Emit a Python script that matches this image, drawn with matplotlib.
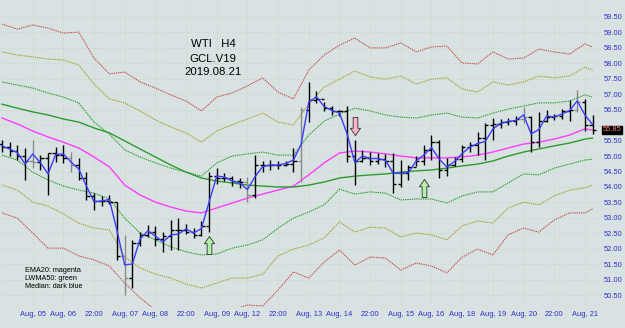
import numpy as np
import matplotlib
matplotlib.use("Agg")
import matplotlib.pyplot as plt
from matplotlib.path import Path

plt.rcParams['font.family'] = ['Liberation Sans', 'DejaVu Sans']

# H4 bars, WTI GCL.V19
high = [55.52, 55.45, 55.36, 55.26, 55.52, 55.03, 55.10, 55.29, 55.36, 55.13,
        54.94, 54.48, 53.80, 53.71, 53.74, 53.52, 52.45, 52.29, 52.54, 52.77,
        52.74, 52.54, 52.93, 52.99, 52.80, 52.67, 52.90, 54.48, 54.61, 54.45,
        54.35, 54.29, 54.32, 55.03, 54.84, 54.87, 54.84, 54.84, 55.26, 56.59,
        57.40, 57.11, 56.75, 56.62, 56.49, 56.62, 55.52, 55.20, 55.13, 55.10,
        55.07, 55.10, 54.87, 54.71, 55.00, 55.36, 55.68, 55.52, 54.94, 54.97,
        55.36, 55.45, 55.78, 56.07, 56.23, 56.20, 56.23, 56.30, 56.59, 56.30,
        56.43, 56.49, 56.36, 56.52, 56.81, 57.14, 56.85, 56.33]
low = [55.13, 55.00, 54.87, 54.23, 54.61, 54.55, 53.74, 54.81, 54.78, 54.48,
       54.23, 53.58, 53.25, 53.38, 53.45, 51.64, 50.50, 50.73, 52.09, 52.38,
       52.09, 51.90, 51.96, 51.96, 52.48, 52.35, 52.41, 52.54, 54.10, 54.19,
       54.03, 53.97, 53.51, 53.64, 54.48, 54.55, 54.58, 54.68, 54.48, 54.16,
       56.10, 56.72, 56.46, 56.33, 56.30, 54.81, 54.06, 54.81, 54.71, 54.74,
       54.65, 53.80, 54.00, 54.23, 54.68, 54.71, 54.87, 54.29, 54.35, 54.68,
       54.81, 55.13, 55.03, 54.87, 55.52, 55.91, 56.01, 56.01, 56.07, 55.13,
       55.29, 56.10, 56.17, 56.20, 56.13, 56.43, 55.81, 55.71]
close = [55.30, 55.15, 55.00, 54.85, 54.80, 54.95, 55.10, 55.05, 54.95, 54.70,
         54.30, 53.70, 53.55, 53.55, 53.50, 51.75, 51.05, 52.20, 52.45, 52.55,
         52.30, 52.40, 52.60, 52.60, 52.55, 52.45, 52.75, 54.35, 54.30, 54.30,
         54.20, 54.15, 53.75, 54.70, 54.70, 54.72, 54.70, 54.75, 54.85, 56.50,
         56.80, 56.85, 56.55, 56.45, 56.45, 55.00, 54.85, 54.95, 54.85, 54.90,
         54.85, 54.10, 54.45, 54.65, 54.85, 55.20, 55.45, 54.55, 54.70, 54.90,
         55.30, 55.35, 55.60, 56.00, 56.05, 56.10, 56.15, 56.20, 56.25, 55.45,
         56.15, 56.25, 56.30, 56.45, 56.50, 56.75, 56.00, 55.85]
first_open = 55.40
gray_bars = [4, 9, 16, 32, 39, 68, 75]

# indicator lines, read every 2nd bar
ind_x = list(range(0, 77, 2)) + [77]
ema20 = [56.23, 56.04, 55.81, 55.62, 55.45, 55.26, 54.97, 54.65, 54.06, 53.74,
         53.51, 53.35, 53.22, 53.16, 53.32, 53.48, 53.64, 53.77, 53.90, 54.03,
         54.39, 54.78, 55.10, 55.16, 55.13, 55.07, 55.00, 54.94, 54.94, 54.94,
         54.97, 55.03, 55.13, 55.26, 55.39, 55.45, 55.55, 55.68, 55.88, 55.84]
lwma50 = [56.68, 56.55, 56.43, 56.33, 56.20, 56.10, 55.91, 55.75, 55.49, 55.23,
          54.97, 54.71, 54.48, 54.29, 54.19, 54.13, 54.06, 54.03, 54.00, 54.00,
          54.06, 54.16, 54.29, 54.35, 54.39, 54.42, 54.48, 54.52, 54.55, 54.61,
          54.68, 54.74, 54.84, 55.00, 55.13, 55.23, 55.33, 55.42, 55.55, 55.58]
up3 = [59.27, 59.11, 59.24, 59.14, 58.98, 59.01, 58.17, 57.66, 57.72, 57.40,
       57.20, 56.98, 56.78, 56.46, 56.91, 57.04, 57.27, 57.53, 57.07, 56.85,
       57.78, 58.27, 58.59, 58.82, 58.50, 58.50, 58.66, 58.37, 58.53, 58.56,
       58.01, 57.98, 58.37, 58.14, 58.17, 58.46, 58.37, 58.30, 58.63, 58.53]
up2 = [58.37, 58.27, 58.21, 58.14, 58.11, 57.95, 57.33, 56.85, 56.72, 56.46,
       56.17, 55.94, 55.75, 55.45, 55.81, 56.01, 56.20, 56.39, 56.10, 56.01,
       56.68, 57.23, 57.49, 57.75, 57.56, 57.49, 57.59, 57.33, 57.49, 57.53,
       57.17, 57.07, 57.40, 57.30, 57.40, 57.59, 57.53, 57.59, 57.88, 57.78]
up1 = [57.40, 57.30, 57.20, 57.04, 56.91, 56.72, 56.10, 55.71, 55.20, 54.97,
       54.78, 54.61, 54.48, 54.35, 54.78, 55.00, 55.07, 55.13, 55.03, 55.03,
       55.68, 56.13, 56.36, 56.55, 56.46, 56.33, 56.26, 56.23, 56.33, 56.39,
       56.26, 56.23, 56.39, 56.52, 56.62, 56.72, 56.72, 56.78, 56.98, 56.91]
dn1 = [55.03, 54.87, 54.48, 54.23, 54.03, 53.90, 53.80, 53.61, 52.99, 52.51,
       52.29, 52.06, 51.90, 51.80, 51.83, 52.02, 52.12, 52.29, 52.67, 52.99,
       53.19, 53.42, 53.93, 53.77, 53.84, 53.80, 53.58, 53.61, 53.61, 53.48,
       53.71, 53.84, 53.84, 54.13, 54.42, 54.39, 54.61, 54.74, 54.87, 54.90]
dn2 = [54.06, 53.90, 53.51, 53.38, 53.13, 52.83, 52.67, 52.61, 51.73, 51.38,
       51.18, 51.05, 50.86, 50.73, 50.89, 51.05, 51.05, 51.18, 51.77, 51.99,
       52.12, 52.35, 52.87, 52.54, 52.70, 52.67, 52.38, 52.51, 52.45, 52.29,
       52.74, 52.90, 52.83, 53.32, 53.51, 53.42, 53.71, 53.90, 53.97, 54.06]
dn3 = [53.16, 52.99, 52.51, 52.02, 52.02, 51.77, 51.64, 51.44, 50.89, 50.41,
       50.02, 49.76, 49.69, 49.76, 49.76, 50.02, 50.18, 50.15, 50.67, 51.25,
       51.05, 51.57, 51.96, 51.47, 51.73, 51.70, 51.31, 51.54, 51.44, 51.22,
       51.73, 51.99, 51.80, 52.45, 52.67, 52.54, 52.93, 53.16, 53.16, 53.29]

# signal arrows (bar index, price)
buy_signals = [(27, 52.12), (55, 53.97)]
sell_signals = [(46, 55.97)]

price_ticks = np.arange(50.5, 59.51, 0.5)
time_labels = ["Aug, 05", "Aug, 06", "22:00", "Aug, 07", "Aug, 08", "22:00",
               "Aug, 09", "Aug, 12", "22:00", "Aug, 13", "Aug, 14", "22:00",
               "Aug, 15", "Aug, 16", "Aug, 18", "Aug, 19", "Aug, 20", "22:00",
               "Aug, 21"]
time_pos = [4 * k + 4 for k in range(len(time_labels))]
last_price = 55.85

bg = '#d8e2e2'
fig = plt.figure(figsize=(6.25, 3.28), dpi=100, facecolor=bg)
ax = fig.add_axes([0, 21 / 328, 601 / 625, 307 / 328], facecolor=bg)

# grid
for p in price_ticks:
    ax.axhline(p, color='#bfd6b0', lw=0.6, ls=(0, (1, 2)), zorder=0)
for t in time_pos:
    ax.axvline(t, color='#bfd6b0', lw=0.6, ls=(0, (1, 2)), zorder=0)

# envelope bands
dots = (0, (1.2, 0.8))
ax.plot(ind_x, up3, color='#c85050', lw=0.8, ls=dots)
ax.plot(ind_x, dn3, color='#c85050', lw=0.8, ls=dots)
ax.plot(ind_x, up2, color='#a8a030', lw=0.8, ls=dots)
ax.plot(ind_x, dn2, color='#a8a030', lw=0.8, ls=dots)
ax.plot(ind_x, up1, color='#2e9a2e', lw=0.8, ls=dots)
ax.plot(ind_x, dn1, color='#2e9a2e', lw=0.8, ls=dots)

# moving averages
ax.plot(ind_x, ema20, color='#ff3cff', lw=1.0)
ax.plot(ind_x, lwma50, color='#2e9a2e', lw=1.0)

# OHLC bars
bars = np.arange(len(high))
opens = [first_open] + close[:-1]
colors = ['#8a8a8a' if i in gray_bars else 'black' for i in bars]
ax.vlines(bars, low, high, colors=colors, lw=1.0, zorder=3)
ax.hlines(opens, bars - 0.42, bars, colors=colors, lw=1.0, zorder=3)
ax.hlines(close, bars, bars + 0.42, colors=colors, lw=1.0, zorder=3)

# median line
median = (np.array(high) + np.array(low)) / 2
ax.plot(bars, median, color='#3c3cff', lw=1.0, zorder=4)

# arrows
up_arrow = Path([(0, 0.5), (0.28, 0.1), (0.13, 0.1), (0.13, -0.5),
                 (-0.13, -0.5), (-0.13, 0.1), (-0.28, 0.1), (0, 0.5)])
down_arrow = Path([(x, -y) for x, y in up_arrow.vertices])
for bx, by in buy_signals:
    ax.plot(bx, by, marker=up_arrow, markersize=13, color='#b4f0a8',
            markeredgecolor='#303030', markeredgewidth=0.6, zorder=5)
for bx, by in sell_signals:
    ax.plot(bx, by, marker=down_arrow, markersize=13, color='#ffb4c8',
            markeredgecolor='#303030', markeredgewidth=0.6, zorder=5)

ax.set_xlim(-0.26, 78.1)
ax.set_ylim(60.05 - 307 * 0.03236, 60.05)

for s in ax.spines.values():
    s.set_visible(False)

# the 56.00 label sits under the current-price box, as in the terminal
ax.yaxis.tick_right()
ax.set_yticks(price_ticks)
ax.set_yticklabels(["" if abs(p - last_price) < 0.2 else f"{p:.2f}" for p in price_ticks])
ax.tick_params(axis='y', length=0, pad=2, labelsize=5.4, labelcolor='#3030c8')
ax.set_xticks(time_pos)
ax.set_xticklabels(time_labels)
ax.tick_params(axis='x', length=0, pad=3, labelsize=5.4, labelcolor='#3030c8')

ax.text(1.003, last_price, f"{last_price:.2f}", transform=ax.get_yaxis_transform(),
        fontsize=5.4, color='#ff7a7a', va='center', ha='left',
        bbox=dict(boxstyle='square,pad=0.1', fc='black', ec='black'))

fig.text(213 / 625, 1 - 44 / 328, "WTI   H4", ha='center', va='center', fontsize=8.2)
fig.text(213 / 625, 1 - 59 / 328, "GCL.V19", ha='center', va='center', fontsize=8.2)
fig.text(213 / 625, 1 - 72 / 328, "2019.08.21", ha='center', va='center', fontsize=8.2)

fig.text(25 / 625, 1 - 271 / 328, "EMA20: magenta", ha='left', va='center', fontsize=5.2)
fig.text(25 / 625, 1 - 279 / 328, "LWMA50: green", ha='left', va='center', fontsize=5.2)
fig.text(25 / 625, 1 - 287 / 328, "Median: dark blue", ha='left', va='center', fontsize=5.2)

fig.savefig("out.png", dpi=100, facecolor=bg)
